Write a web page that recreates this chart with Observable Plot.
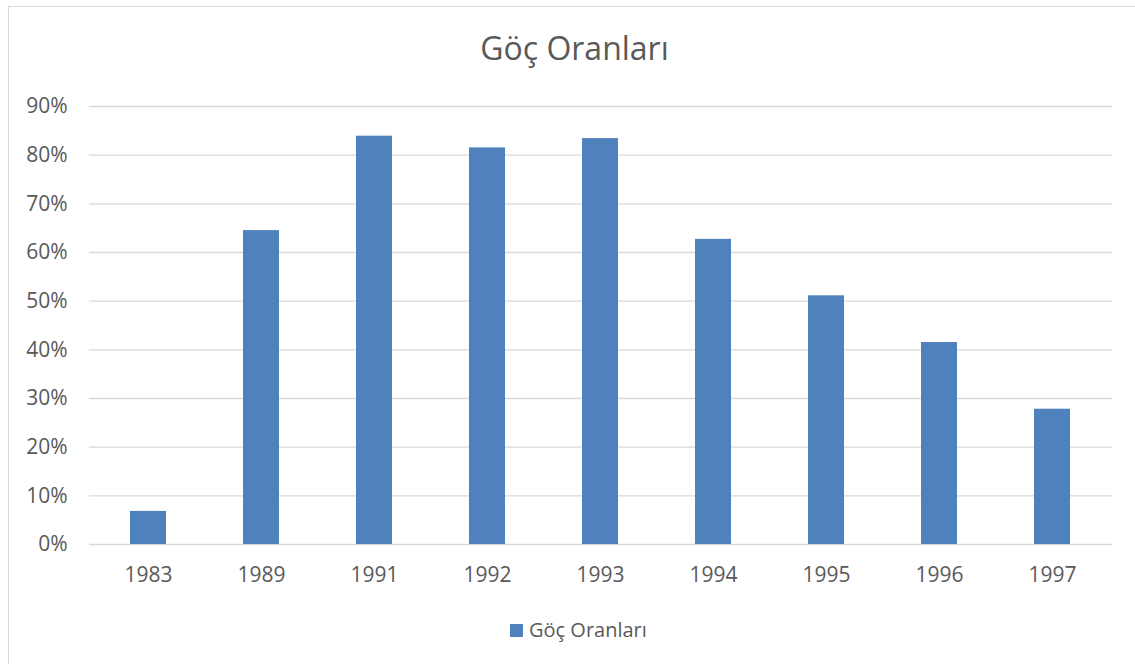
<!DOCTYPE html>
<html>
<head>
<meta charset="utf-8">
<script src="https://cdn.jsdelivr.net/npm/d3@7"></script>
<script src="https://cdn.jsdelivr.net/npm/@observablehq/plot@0.6"></script>
<style>
  html, body { margin: 0; padding: 0; background: #fff; overflow: hidden; }
  #wrap { position: relative; width: 1135px; height: 664px; overflow: hidden; font-family: "Open Sans", sans-serif; color: #595959; }
  #frame { position: absolute; left: 8px; top: 6px; width: 1150px; height: 680px; border: 1.5px solid #d9d9d9; box-sizing: border-box; }
  #title { position: absolute; left: 0; top: 26px; width: 1149px; text-align: center; font-size: 32px; line-height: 44px; }
  #chart { position: absolute; left: 0; top: 0; }
  #legend { position: absolute; left: 510px; top: 615px; font-size: 20px; line-height: 30px; display: flex; align-items: center; }
  #legend .sw { width: 13px; height: 13px; background: #4f81bd; margin-right: 6px; }
</style>
</head>
<body>
<div id="wrap">
  <div id="frame"></div>
  <div id="chart"></div>
  <div id="title">Göç Oranları</div>
  <div id="legend"><span class="sw"></span><span>Göç Oranları</span></div>
</div>
<script>
const years = ["1983", "1989", "1991", "1992", "1993", "1994", "1995", "1996", "1997"];
const rates = [0.068, 0.645, 0.839, 0.815, 0.834, 0.627, 0.511, 0.415, 0.278];
const yTicks = [0, 0.1, 0.2, 0.3, 0.4, 0.5, 0.6, 0.7, 0.8, 0.9];

const data = years.map((year, i) => ({year, rate: rates[i]}));

const chart = Plot.plot({
  width: 1135,
  height: 610,
  marginTop: 106,
  marginBottom: 66,
  marginLeft: 89,
  marginRight: 23,
  style: {fontFamily: "'Open Sans', sans-serif", fontSize: "21px", color: "#595959", background: "transparent", overflow: "visible"},
  x: {domain: years, paddingInner: 0.68, paddingOuter: 0.34, label: null},
  y: {domain: [0, 0.9], label: null},
  marks: [
    Plot.ruleY(yTicks, {stroke: "#d9d9d9", strokeWidth: 1.3}),
    Plot.barY(data, {x: "year", y: "rate", fill: "#4f81bd"}),
    Plot.axisY({ticks: yTicks, tickFormat: d3.format(".0%"), tickSize: 0, tickPadding: 22, label: null, fill: "#595959"}),
    Plot.axisX({tickSize: 0, tickPadding: 23, label: null, fill: "#595959"})
  ]
});
document.getElementById("chart").appendChild(chart);
</script>
</body>
</html>
